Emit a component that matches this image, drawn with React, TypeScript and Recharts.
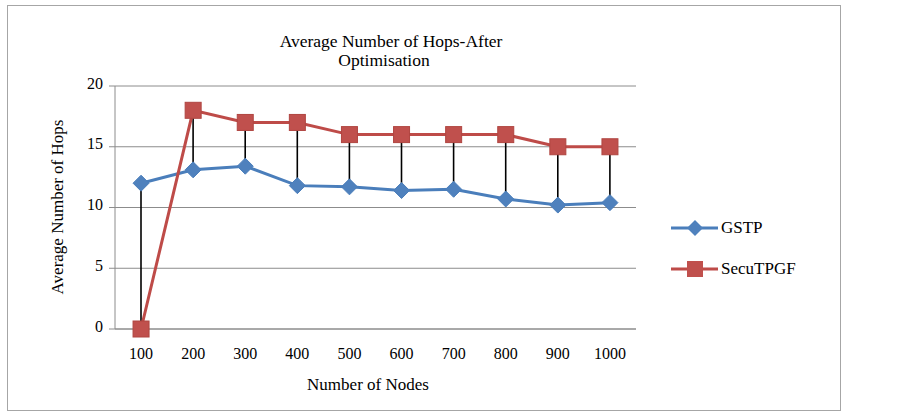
import {
  ComposedChart,
  Line,
  Bar,
  XAxis,
  YAxis,
  CartesianGrid,
} from 'recharts';

const nodes = ['100', '200', '300', '400', '500', '600', '700', '800', '900', '1000'];
const gstp = [12, 13.1, 13.4, 11.8, 11.7, 11.4, 11.5, 10.7, 10.2, 10.4];
const secutpgf = [0, 18, 17, 17, 16, 16, 16, 16, 15, 15];
const yTicks = [0, 5, 10, 15, 20];

const BLUE_LINE = '#4a7ebb';
const BLUE_MARK = '#4f81bd';
const RED_LINE = '#be4b48';
const RED_MARK = '#c0504d';
const GRID = '#8c8c8c';
const FONT = '"Liberation Serif", "Times New Roman", serif';

const data = nodes.map((name, i) => ({
  name,
  gstp: gstp[i],
  secu: secutpgf[i],
  range: [Math.min(gstp[i], secutpgf[i]), Math.max(gstp[i], secutpgf[i])],
}));

function Diamond(props: any) {
  const { cx, cy } = props;
  if (cx == null || cy == null) return null;
  const r = 8;
  return (
    <polygon
      points={`${cx},${cy - r} ${cx + r},${cy} ${cx},${cy + r} ${cx - r},${cy}`}
      fill={BLUE_MARK}
      stroke={BLUE_LINE}
      strokeWidth={1}
    />
  );
}

function Square(props: any) {
  const { cx, cy } = props;
  if (cx == null || cy == null) return null;
  const s = 16;
  return (
    <rect x={cx - s / 2} y={cy - s / 2} width={s} height={s} fill={RED_MARK} stroke="#b04541" strokeWidth={1} />
  );
}

// high-low connector drawn as a thin ranged bar
function HiLo(props: any) {
  const { x, y, width, height } = props;
  if (x == null) return null;
  const cx = x + width / 2;
  const top = Math.min(y, y + height);
  const bottom = Math.max(y, y + height);
  return <line x1={cx} x2={cx} y1={top} y2={bottom} stroke="#000" strokeWidth={1.6} />;
}

function LegendBox() {
  const items = [
    { label: 'GSTP', color: BLUE_LINE, kind: 'diamond' },
    { label: 'SecuTPGF', color: RED_LINE, kind: 'square' },
  ];
  return (
    <div
      style={{
        position: 'absolute',
        left: 671,
        top: 207,
        fontFamily: FONT,
        fontSize: 17,
        color: '#000',
      }}
    >
      {items.map((it) => (
        <div key={it.label} style={{ display: 'flex', alignItems: 'center', height: 41 }}>
          <svg width={50} height={20}>
            <line x1={0} x2={47} y1={10} y2={10} stroke={it.color} strokeWidth={3} />
            {it.kind === 'diamond' ? (
              <polygon points="24,2 32,10 24,18 16,10" fill={BLUE_MARK} />
            ) : (
              <rect x={16} y={2} width={16} height={16} fill={RED_MARK} />
            )}
          </svg>
          <span>{it.label}</span>
        </div>
      ))}
    </div>
  );
}

export default function App() {
  return (
    <div style={{ position: 'absolute', left: 0, top: 0, width: 903, height: 414, background: '#fff' }}>
      <div
        style={{
          position: 'absolute',
          left: 7,
          top: 5,
          width: 832,
          height: 404,
          border: '1px solid #a6a6a6',
        }}
      />
      <div
        style={{
          position: 'absolute',
          left: 238,
          top: 32,
          width: 300,
          textAlign: 'center',
          fontFamily: FONT,
          fontSize: 17.5,
          lineHeight: '19px',
          color: '#000',
        }}
      >
        <div style={{ transform: 'translateX(3px)' }}>Average Number of Hops-After</div>
        <div style={{ transform: 'translateX(-4px)' }}>Optimisation</div>
      </div>
      <div
        style={{
          position: 'absolute',
          left: 58,
          top: 207,
          transform: 'translate(-50%, -50%) rotate(-90deg)',
          whiteSpace: 'nowrap',
          fontFamily: FONT,
          fontSize: 17,
          color: '#000',
        }}
      >
        Average Number of Hops
      </div>
      <div
        style={{
          position: 'absolute',
          left: 368,
          top: 385,
          transform: 'translate(-50%, -50%)',
          whiteSpace: 'nowrap',
          fontFamily: FONT,
          fontSize: 17,
          color: '#000',
        }}
      >
        Number of Nodes
      </div>
      <ComposedChart
        width={903}
        height={414}
        data={data}
        margin={{ top: 86, right: 267, bottom: 55, left: 55 }}
        style={{ position: 'absolute', left: 0, top: 0 }}
      >
        <CartesianGrid vertical={false} stroke={GRID} strokeWidth={1} />
        <XAxis
          dataKey="name"
          height={30}
          axisLine={{ stroke: GRID }}
          tickLine={false}
          tickSize={0}
          tickMargin={19}
          tick={{ fontFamily: FONT, fontSize: 16, fill: '#000' }}
        />
        <YAxis
          width={60}
          domain={[0, 20]}
          ticks={yTicks}
          axisLine={{ stroke: GRID }}
          tickLine={{ stroke: GRID }}
          tickSize={6}
          tickMargin={6}
          tick={{ fontFamily: FONT, fontSize: 16, fill: '#000', dy: -3 }}
        />
        <Line
          dataKey="gstp"
          name="GSTP"
          stroke={BLUE_LINE}
          strokeWidth={3}
          dot={<Diamond />}
          activeDot={false}
          isAnimationActive={false}
        />
        <Line
          dataKey="secu"
          name="SecuTPGF"
          stroke={RED_LINE}
          strokeWidth={3}
          dot={<Square />}
          activeDot={false}
          isAnimationActive={false}
        />
        <Bar dataKey="range" barSize={2} shape={<HiLo />} isAnimationActive={false} legendType="none" />
      </ComposedChart>
      <LegendBox />
    </div>
  );
}
